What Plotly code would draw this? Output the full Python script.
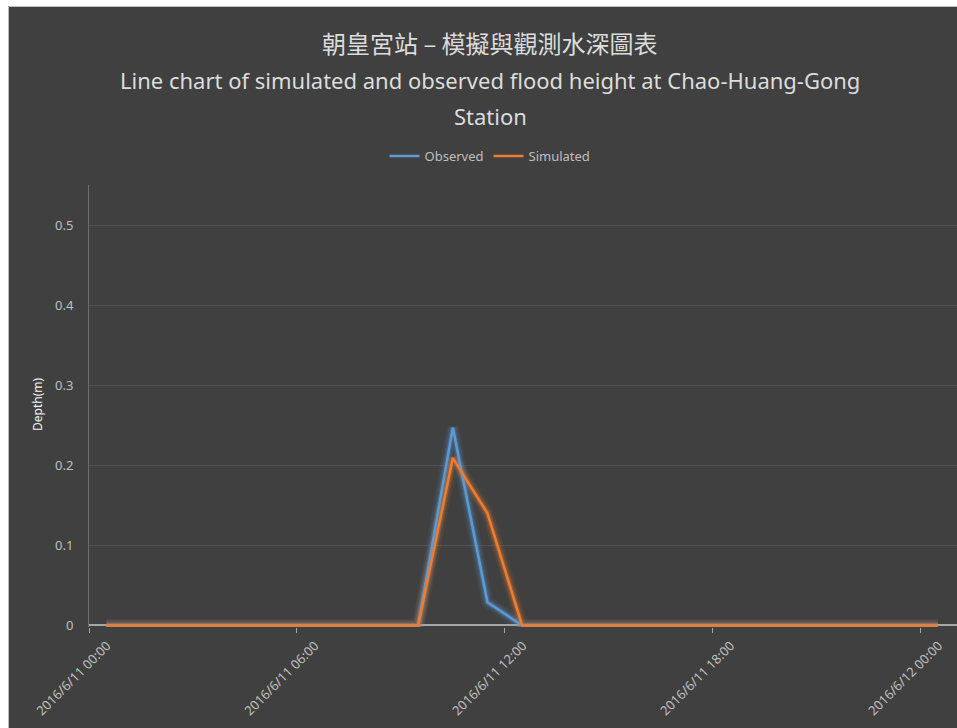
import plotly.graph_objects as go

# Hourly depth readings (m), 2016/6/11 00:30 to 2016/6/12 00:30
times = [f"2016-06-11 {h:02d}:30" for h in range(24)] + ["2016-06-12 00:30"]
observed = [0, 0, 0, 0, 0, 0, 0, 0, 0, 0, 0.247, 0.029, 0,
            0, 0, 0, 0, 0, 0, 0, 0, 0, 0, 0, 0]
simulated = [0, 0, 0, 0, 0, 0, 0, 0, 0, 0, 0.209, 0.14, 0,
             0, 0, 0, 0, 0, 0, 0, 0, 0, 0, 0, 0]

tick_vals = ["2016-06-11 00:00", "2016-06-11 06:00", "2016-06-11 12:00",
             "2016-06-11 18:00", "2016-06-12 00:00"]
tick_text = ["2016/6/11 00:00", "2016/6/11 06:00", "2016/6/11 12:00",
             "2016/6/11 18:00", "2016/6/12 00:00"]
y_ticks = [0, 0.1, 0.2, 0.3, 0.4, 0.5]
y_tick_text = ["0", "0.1", "0.2", "0.3", "0.4", "0.5"]

title_zh = "朝皇宮站 – 模擬與觀測水深圖表"
title_en_1 = "Line chart of simulated and observed flood height at Chao-Huang-Gong"
title_en_2 = "Station"

W, H = 957, 728
ML, MR, MT, MB = 89, 0, 185, 101
PW, PH = W - ML - MR, H - MT - MB

BG = "#404040"
BLUE = "#5B9BD5"
ORANGE = "#ED7D31"


def px_x(px):
    return (px - ML) / PW


def px_y(py):
    return (H - MB - py) / PH


fig = go.Figure()

# soft glow under each series
for ys, col in ((observed, BLUE), (simulated, ORANGE)):
    for w, op in ((12, 0.09), (8, 0.14), (5, 0.25)):
        fig.add_trace(go.Scatter(
            x=times, y=ys, mode="lines", line=dict(color=col, width=w),
            opacity=op, showlegend=False, hoverinfo="skip"))

fig.add_trace(go.Scatter(x=times, y=observed, mode="lines", name="Observed",
                         line=dict(color=BLUE, width=2.5)))
fig.add_trace(go.Scatter(x=times, y=simulated, mode="lines", name="Simulated",
                         line=dict(color=ORANGE, width=2.5)))

annotations = [
    dict(text=title_zh, x=px_x(490), y=px_y(42), xref="paper", yref="paper",
         showarrow=False, xanchor="center", yanchor="middle",
         font=dict(family="Noto Sans CJK TC", size=24, color="#dcdcdc")),
    dict(text=title_en_1, x=px_x(490), y=px_y(80), xref="paper", yref="paper",
         showarrow=False, xanchor="center", yanchor="middle",
         font=dict(family="Noto Sans", size=22, color="#dcdcdc")),
    dict(text=title_en_2, x=px_x(490), y=px_y(116), xref="paper", yref="paper",
         showarrow=False, xanchor="center", yanchor="middle",
         font=dict(family="Noto Sans", size=22, color="#dcdcdc")),
    dict(text="Depth(m)", x=px_x(37), y=px_y(405), xref="paper", yref="paper",
         showarrow=False, xanchor="center", yanchor="middle", textangle=-90,
         font=dict(family="Noto Sans", size=12, color="#f2f2f2")),
]

shapes = [
    # white page strips on the left and top edges with a thin frame line
    dict(type="rect", xref="paper", yref="paper", x0=px_x(0), x1=px_x(8),
         y0=px_y(H), y1=px_y(0), fillcolor="white", line=dict(width=0), layer="above"),
    dict(type="rect", xref="paper", yref="paper", x0=px_x(0), x1=px_x(W),
         y0=px_y(6), y1=px_y(0), fillcolor="white", line=dict(width=0), layer="above"),
    dict(type="line", xref="paper", yref="paper", x0=px_x(8.5), x1=px_x(8.5),
         y0=px_y(H), y1=px_y(6.5), line=dict(color="#bdbdbd", width=1), layer="above"),
    dict(type="line", xref="paper", yref="paper", x0=px_x(8.5), x1=px_x(W),
         y0=px_y(6.5), y1=px_y(6.5), line=dict(color="#bdbdbd", width=1), layer="above"),
]

fig.update_layout(
    width=W, height=H,
    margin=dict(l=ML, r=MR, t=MT, b=MB, pad=0),
    paper_bgcolor=BG, plot_bgcolor=BG,
    font=dict(family="Noto Sans", color="#bfbfbf"),
    showlegend=True,
    legend=dict(orientation="h", x=px_x(490), y=px_y(156), xanchor="center",
                yanchor="middle", font=dict(size=13, color="#bfbfbf"),
                bgcolor="rgba(0,0,0,0)", itemwidth=30, tracegroupgap=0),
    annotations=annotations,
    shapes=shapes,
    xaxis=dict(
        type="date",
        range=["2016-06-11 00:00", "2016-06-12 01:03"],
        tickmode="array", tickvals=tick_vals, ticktext=tick_text,
        tickangle=-45, ticks="outside", ticklen=5, tickcolor="#a6a6a6",
        ticklabelshift=18,
        tickfont=dict(size=13, color="#bfbfbf"),
        showgrid=False, showline=False, zeroline=False,
    ),
    yaxis=dict(
        range=[-0.002, 0.55],
        tickmode="array", tickvals=y_ticks, ticktext=y_tick_text,
        tickfont=dict(size=13, color="#bfbfbf"),
        ticks="", ticklabelstandoff=12,
        showgrid=True, gridcolor="#515151", gridwidth=1,
        zeroline=True, zerolinecolor="#a6a6a6", zerolinewidth=1.5,
        showline=True, linecolor="#6e6e6e", linewidth=1,
    ),
)

fig.write_html("out.html")
